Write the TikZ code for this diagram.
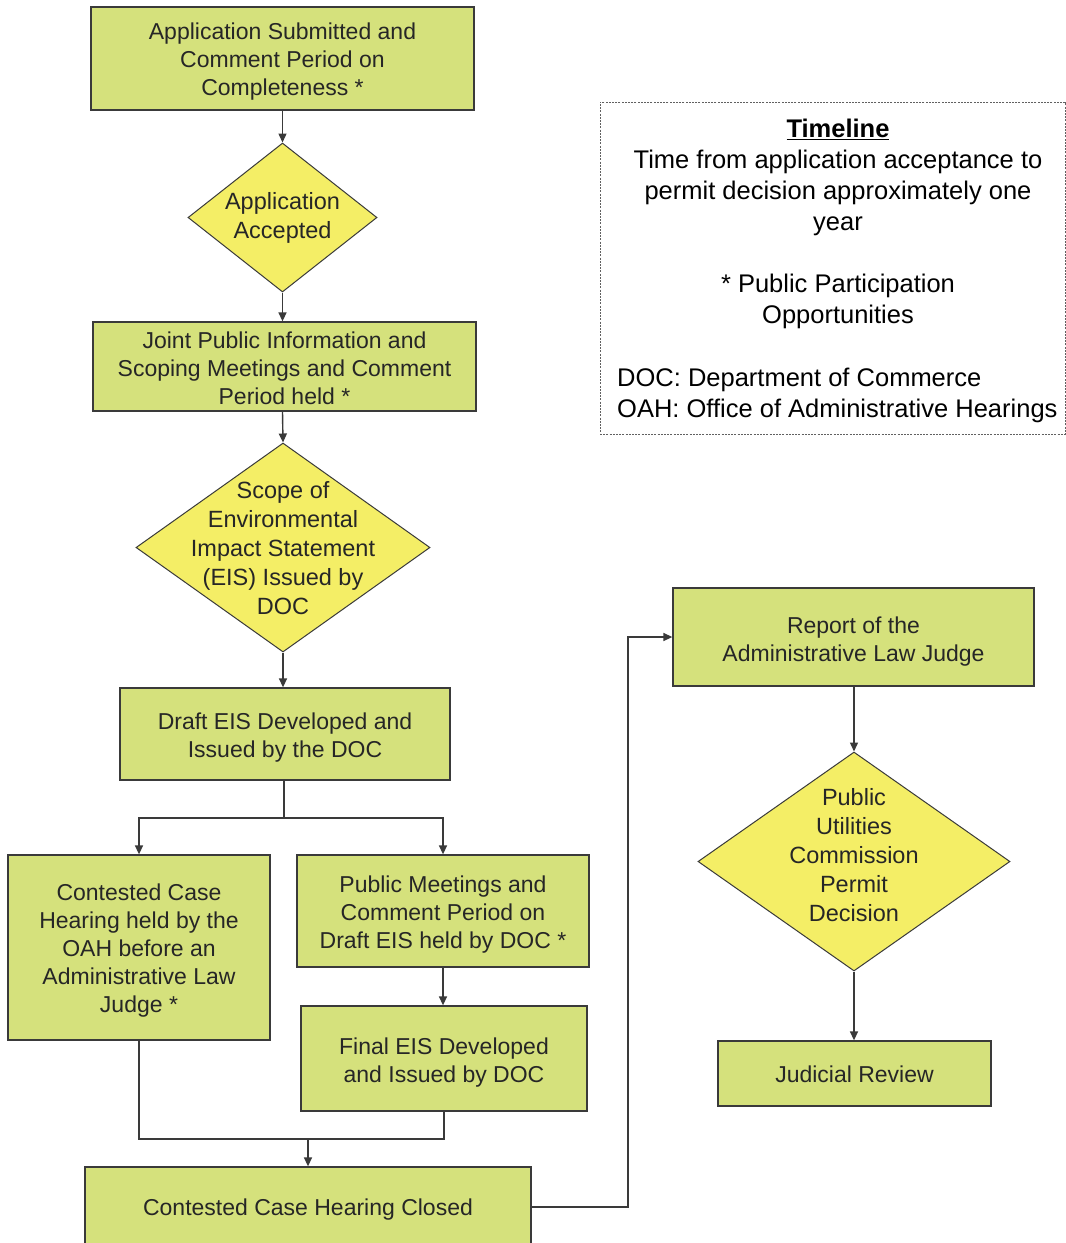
\documentclass[tikz,border=0pt]{standalone}
\usepackage{fontspec}
\setmainfont{Liberation Sans}
\usetikzlibrary{shapes.geometric,arrows.meta}
\definecolor{boxfill}{HTML}{D5E17C}
\definecolor{diafill}{HTML}{F4EE66}
\definecolor{edge}{HTML}{3A3A3A}
\definecolor{ink}{HTML}{262626}
\begin{document}
\begin{tikzpicture}[x=1pt,y=-1pt,
 box/.style={draw=edge,fill=boxfill,line width=1.3pt,inner sep=0pt},
 btext/.style={align=center,text=ink,font=\fontsize{23}{28}\selectfont,inner sep=0pt},
 dia/.style={draw=edge,fill=diafill,line width=1pt,shape=diamond,inner sep=0pt},
 dtext/.style={align=center,text=ink,font=\fontsize{23.5}{29}\selectfont,inner sep=0pt},
 ttext/.style={align=center,text=black,font=\fontsize{25.5}{31}\selectfont,inner sep=0pt},
 arr/.style={draw=edge,line width=1.4pt,-{Triangle[length=9pt,width=8pt]}},
 ln/.style={draw=edge,line width=1.4pt}]
\useasboundingbox (0,0) rectangle (1066,1243);
\fill[white] (0,0) rectangle (1066,1243);

% left column
\node[box,minimum width=383pt,minimum height=103pt] (b1) at (282.5,58.5) {};
\node[btext] (b1t) at ([yshift=-3.5pt]b1.center) {Application Submitted and\\Comment Period on\\Completeness *};
\node[dia,minimum width=189pt,minimum height=149pt] (d1) at (282.5,217.5) {};
\node[dtext] (d1t) at (282.5,218) {Application\\Accepted};
\node[box,minimum width=383pt,minimum height=89pt] (b2) at (284.5,366.5) {};
\node[btext] (b2t) at ([yshift=-2pt]b2.center) {Joint Public Information and\\Scoping Meetings and Comment\\Period held *};
\node[dia,minimum width=294pt,minimum height=209pt] (d2) at (283,547.5) {};
\node[dtext] (d2t) at (283,548) {Scope of\\Environmental\\Impact Statement\\(EIS) Issued by\\DOC};
\node[box,minimum width=330pt,minimum height=92pt] (b3) at (285,734) {};
\node[btext] (b3t) at ([yshift=-3.5pt]b3.center) {Draft EIS Developed and\\Issued by the DOC};
\node[box,minimum width=262pt,minimum height=185pt] (b4) at (139,947.5) {};
\node[btext] (b4t) at ([yshift=-3.5pt]b4.center) {Contested Case\\Hearing held by the\\OAH before an\\Administrative Law\\Judge *};
\node[box,minimum width=292pt,minimum height=112pt] (b5) at (443,911) {};
\node[btext] (b5t) at ([yshift=-4pt]b5.center) {Public Meetings and\\Comment Period on\\Draft EIS held by DOC *};
\node[box,minimum width=286pt,minimum height=105pt] (b6) at (444,1058.5) {};
\node[btext] (b6t) at ([yshift=-4pt]b6.center) {Final EIS Developed\\and Issued by DOC};
\node[box,minimum width=446pt,minimum height=80pt] (b7) at (308,1207) {};
\node[btext] (b7t) at ([yshift=-3pt]b7.center) {Contested Case Hearing Closed};

% right column
\node[box,minimum width=361pt,minimum height=98pt] (b8) at (853.5,637) {};
\node[btext] (b8t) at ([yshift=-5pt]b8.center) {Report of the\\Administrative Law Judge};
\node[dia,minimum width=312pt,minimum height=219pt] (d3) at (854,861.5) {};
\node[dtext] (d3t) at (854,855) {Public\\Utilities\\Commission\\Permit\\Decision};
\node[box,minimum width=273pt,minimum height=65pt] (b9) at (854.5,1073.5) {};
\node[btext] (b9t) at ([yshift=-1pt]b9.center) {Judicial Review};

% timeline box
\node[draw=edge!80,dash pattern=on 2pt off 1.2pt,line width=0.8pt,minimum width=465pt,minimum height=332pt,inner sep=0pt] (tl) at (832.5,268) {};
\node[ttext] (tl1) at (838,177) {\underline{\textbf{Timeline}}\\Time from application acceptance to\\permit decision approximately one\\year};
\node[ttext] (tl2) at (838,301) {* Public Participation\\Opportunities};
\node[ttext,align=left,anchor=west] (tl3) at (617,395) {DOC: Department of Commerce\\OAH: Office of Administrative Hearings};

% connectors
\draw[arr] (b1.south) -- (b1.south |- d1.north);
\draw[arr] (d1.south) -- (d1.south |- b2.north);
\draw[arr] (d1.south |- b2.south) -- (d2.north);
\draw[arr] (d2.south) -- (d2.south |- b3.north);
\coordinate (sp) at (284,818);
\draw[ln] (b3.south -| sp) -- (sp);
\draw[arr] (sp) -| (b4.north);
\draw[arr] (sp) -| (b5.north);
\draw[arr] (b5.south) -- (b5.south |- b6.north);
\coordinate (mg) at (308,1139);
\draw[ln] (b4.south) |- (mg);
\draw[ln] (b6.south) |- (mg);
\draw[arr] (mg) -- (mg |- b7.north);
\coordinate (cr) at (628,1207);
\draw[arr] (b7.east) -- (cr) |- (b8.west);
\draw[arr] (b8.south -| d3.north) -- (d3.north);
\draw[arr] (d3.south) -- (d3.south |- b9.north);
\end{tikzpicture}
\end{document}
